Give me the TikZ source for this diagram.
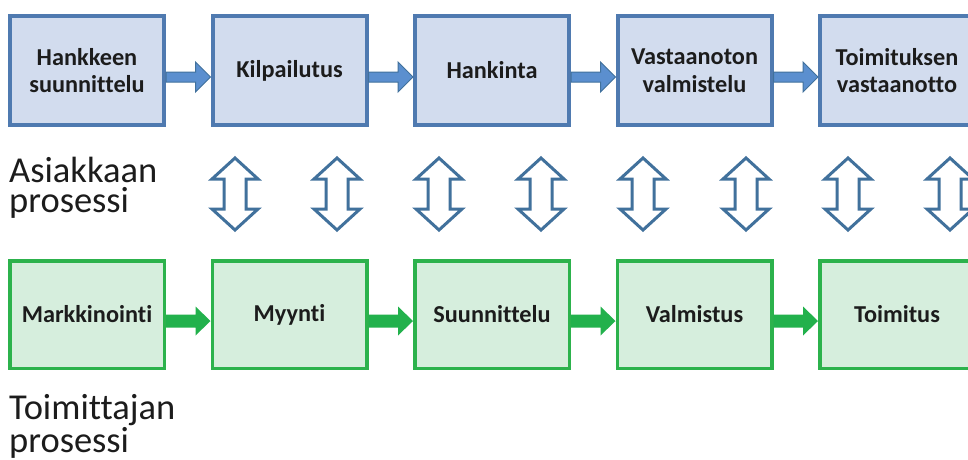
\documentclass[tikz,border=0pt]{standalone}
\usepackage{fontspec}
\setmainfont{Carlito}[Ligatures=NoCommon]
\usetikzlibrary{calc}

\definecolor{custline}{HTML}{4F7AB0}
\definecolor{custfill}{HTML}{D2DCEE}
\definecolor{custarrow}{HTML}{5B8FCF}
\definecolor{custarrowline}{HTML}{41719C}
\definecolor{suppline}{HTML}{2CB24C}
\definecolor{suppfill}{HTML}{D6EEDD}
\definecolor{supparrow}{HTML}{22B14C}
\definecolor{linkline}{HTML}{41719C}
\definecolor{textdark}{HTML}{1C1C1C}

\newcommand\procfont{\fontsize{24.3}{27.5}\selectfont\bfseries}
\newcommand\lanefont{\fontsize{36.5}{30}\selectfont}

\begin{document}
\begin{tikzpicture}[x=1pt,y=-1pt,
  custbox/.style={draw=custline, fill=custfill, line width=4pt,
    minimum width=154pt, minimum height=109pt, inner sep=0pt,
    font=\procfont, text=textdark, align=center},
  suppbox/.style={draw=suppline, fill=suppfill, line width=3.5pt,
    minimum width=154.5pt, minimum height=107.5pt, inner sep=0pt,
    font=\procfont, text=textdark, align=center},
  custconn/.style={fill=custarrow, draw=custarrowline, line width=1pt, line join=miter},
  suppconn/.style={fill=supparrow},
  lanelabel/.style={anchor=base west, inner sep=0pt, align=left,
    font=\lanefont, text=textdark},
  updown/.pic={
    \draw[draw=linkline, fill=white, line width=3pt, line join=miter]
      (0,-36) -- (23,-15) -- (11,-15) -- (11,15) -- (23,15) -- (0,36)
      -- (-23,15) -- (-11,15) -- (-11,-15) -- (-23,-15) -- cycle;
  }]
\clip (0,0) rectangle (968,459);
\fill[white] (0,0) rectangle (968,459);

% customer process (top row)
\node[custbox] (a1) at (87,70.5)    {Hankkeen\\suunnittelu};
\node[custbox] (a2) at (289.5,70.5) {Kilpailutus};
\node[custbox] (a3) at (492,70.5)   {Hankinta};
\node[custbox] (a4) at (694.5,70.5) {Vastaanoton\\valmistelu};
\node[custbox] (a5) at (897,70.5)   {Toimituksen\\vastaanotto};

% supplier process (bottom row)
\node[suppbox] (b1) at (87,314.5)    {Markkinointi};
\node[suppbox] (b2) at (289.5,314.5) {Myynti};
\node[suppbox] (b3) at (492,314.5)   {Suunnittelu};
\node[suppbox] (b4) at (694.5,314.5) {Valmistus};
\node[suppbox] (b5) at (897,314.5)   {Toimitus};

% block arrows between consecutive steps
\foreach \i/\j in {a1/a2,a2/a3,a3/a4,a4/a5}{
  \draw[custconn] ($(\i.east)+(0,1.5)$) -- ($(\j.west)+(-15,1.5)$)
    -- ($(\j.west)+(-15,-8.5)$) -- ($(\j.west)+(0,6.5)$)
    -- ($(\j.west)+(-15,21.5)$) -- ($(\j.west)+(-15,11.5)$)
    -- ($(\i.east)+(0,11.5)$) -- cycle;
}
\foreach \i/\j in {b1/b2,b2/b3,b3/b4,b4/b5}{
  \fill[suppconn] ($(\i.east)+(0,0)$) -- ($(\j.west)+(-15,0)$)
    -- ($(\j.west)+(-15,-8)$) -- ($(\j.west)+(0,6.5)$)
    -- ($(\j.west)+(-15,21)$) -- ($(\j.west)+(-15,13)$)
    -- ($(\i.east)+(0,13)$) -- cycle;
}

% two-way links between the processes
\foreach \x in {235,337,439,541,643,746,848,950}{
  \pic at (\x,194) {updown};
}

% lane labels (anchored on the baseline of the second line)
\node[lanelabel] (custlabel) at (9,212) {Asiakkaan\\prosessi};
\node[lanelabel] (supplabel) at (9,452) {Toimittajan\\prosessi};
\end{tikzpicture}
\end{document}
